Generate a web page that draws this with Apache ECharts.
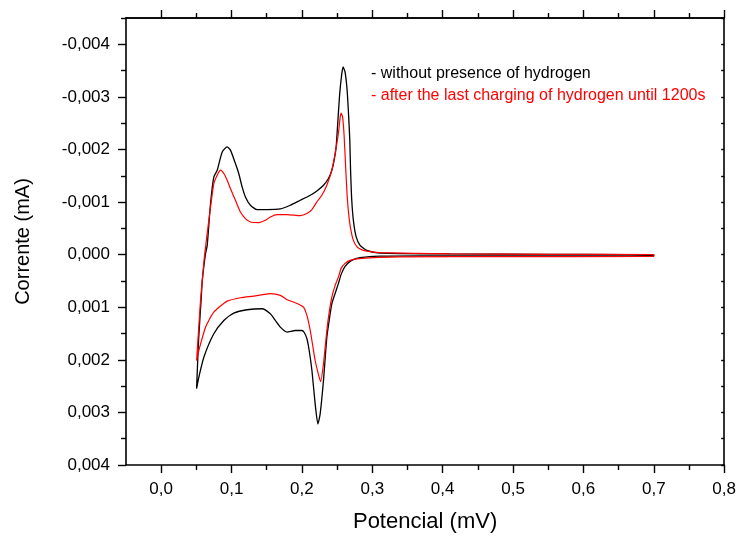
<!DOCTYPE html>
<html>
<head>
<meta charset="utf-8">
<script src="https://cdn.jsdelivr.net/npm/echarts@6/dist/echarts.min.js"></script>
<style>html,body{margin:0;padding:0;background:#fff}#c{width:739px;height:539px}</style>
</head>
<body>
<div id="c"></div>
<script>
// ---- data (potential in mV, current in mA) ----
const blackPotential = [0.0503,0.0531,0.0567,0.0584,0.0630,0.0654,0.0701,0.0748,0.0796,0.0867,0.0938,0.0984,0.1055,0.1102,0.1150,0.1197,0.1268,0.1363,0.1504,0.1693,0.1834,0.1976,0.2118,0.2212,0.2306,0.2377,0.2425,0.2458,0.2486,0.2507,0.2535,0.2564,0.2585,0.2613,0.2642,0.2663,0.2680,0.2691,0.2708,0.2731,0.2769,0.2826,0.2921,0.3109,0.4100,0.5517,0.7000,
  0.7000,0.4809,0.3676,0.3109,0.2897,0.2779,0.2684,0.2613,0.2557,0.2518,0.2472,0.2425,0.2387,0.2354,0.2306,0.2259,0.2227,0.2188,0.2142,0.2103,0.2071,0.2033,0.2000,0.1905,0.1788,0.1693,0.1622,0.1551,0.1433,0.1221,0.1031,0.0890,0.0748,0.0606,0.0535,0.0503];
const blackCurrent = [0.002547,0.001632,0.000870,0.000490,-0.000019,-0.000177,-0.000971,-0.001478,-0.001606,-0.001954,-0.002050,-0.001987,-0.001733,-0.001543,-0.001288,-0.001097,-0.000939,-0.000857,-0.000857,-0.000869,-0.000939,-0.001034,-0.001130,-0.001211,-0.001320,-0.001448,-0.001606,-0.001796,-0.002050,-0.002463,-0.003034,-0.003415,-0.003568,-0.003472,-0.003130,-0.002653,-0.002177,-0.001606,-0.001034,-0.000653,-0.000349,-0.000177,-0.000082,-0.000030,-0.000015,-0.000006,0.000000,
  0.000019,0.000023,0.000023,0.000029,0.000048,0.000070,0.000128,0.000223,0.000375,0.000552,0.000737,0.000933,0.001251,0.001570,0.002394,0.003029,0.003219,0.002838,0.002204,0.001823,0.001600,0.001480,0.001442,0.001442,0.001474,0.001379,0.001251,0.001124,0.001029,0.001048,0.001112,0.001251,0.001505,0.001950,0.002331,0.002547];

const redPotential = [0.0503,0.0531,0.0559,0.0584,0.0616,0.0677,0.0748,0.0796,0.0843,0.0890,0.0938,0.0984,0.1055,0.1126,0.1197,0.1268,0.1385,0.1480,0.1551,0.1646,0.1788,0.1976,0.2071,0.2142,0.2212,0.2283,0.2354,0.2425,0.2472,0.2518,0.2542,0.2557,0.2578,0.2599,0.2620,0.2642,0.2666,0.2691,0.2731,0.2783,0.2854,0.2967,0.3109,0.4101,0.5517,0.7000,
  0.7000,0.4809,0.3392,0.3109,0.2897,0.2779,0.2684,0.2613,0.2557,0.2518,0.2472,0.2425,0.2387,0.2354,0.2306,0.2266,0.2231,0.2188,0.2153,0.2118,0.2071,0.2023,0.1962,0.1905,0.1788,0.1693,0.1551,0.1314,0.1126,0.0938,0.0748,0.0630,0.0535,0.0503];
const redCurrent = [0.002013,0.001442,0.000870,0.000490,0.000013,-0.000653,-0.001352,-0.001510,-0.001606,-0.001543,-0.001415,-0.001257,-0.001034,-0.000811,-0.000686,-0.000621,-0.000610,-0.000653,-0.000716,-0.000762,-0.000762,-0.000743,-0.000781,-0.000857,-0.001002,-0.001130,-0.001320,-0.001606,-0.001924,-0.002305,-0.002596,-0.002691,-0.002615,-0.002272,-0.001701,-0.001130,-0.000749,-0.000501,-0.000272,-0.000149,-0.000091,-0.000057,-0.000038,-0.000015,-0.000006,-0.000002,
  0.000032,0.000038,0.000042,0.000051,0.000067,0.000080,0.000109,0.000166,0.000261,0.000427,0.000585,0.000808,0.001099,0.001442,0.002076,0.002413,0.002261,0.002013,0.001728,0.001442,0.001156,0.000998,0.000947,0.000914,0.000857,0.000775,0.000743,0.000789,0.000819,0.000884,0.001093,0.001379,0.001823,0.002013];

const xMajorTicks = [0,0.1,0.2,0.3,0.4,0.5,0.6,0.7,0.8];
const xMinorTicks = [0.05,0.15,0.25,0.35,0.45,0.55,0.65,0.75];
const yMajorTicks = [-0.004,-0.003,-0.002,-0.001,0,0.001,0.002,0.003,0.004];
const yMinorTicks = [-0.0045,-0.0035,-0.0025,-0.0015,-0.0005,0.0005,0.0015,0.0025,0.0035];
const legendLines = ['- without presence of hydrogen','- after the last charging of hydrogen until 1200s'];

const zip = (a,b) => a.map((v,i)=>[v,b[i]]);
const X_MIN=-0.05, X_MAX=0.8, Y_MIN=-0.0045, Y_MAX=0.004;
const axisColor='#000';
const sans = "'Liberation Sans',Arial,Helvetica,sans-serif";

function xAx(pos, ticks, len, labels, name){
  return {
    type:'value', position:pos, min:X_MIN, max:X_MAX,
    splitLine:{show:false},
    axisLine:{show:!!labels || pos==='top', onZero:false, lineStyle:{color:axisColor,width:1.6}},
    axisTick:{show:true, customValues:ticks, length:len, inside:false, lineStyle:{color:axisColor,width:1.4}},
    axisLabel:{show:!!labels, customValues:ticks, margin:16, color:'#000', fontFamily:sans, fontSize:17,
      formatter:v=>v.toFixed(1).replace('.',',')},
    name: name||'', nameLocation:'middle', nameGap:46,
    nameTextStyle:{color:'#000', fontFamily:sans, fontSize:22}
  };
}
function yAx(pos, ticks, len, labels, name, inside){
  return {
    type:'value', position:pos, min:Y_MIN, max:Y_MAX, inverse:true,
    splitLine:{show:false},
    axisLine:{show:!!labels || pos==='right', onZero:false, lineStyle:{color:axisColor,width:1.6}},
    axisTick:{show:true, customValues:ticks, length:len, inside:!!inside, lineStyle:{color:axisColor,width:1.4}},
    axisLabel:{show:!!labels, customValues:ticks, margin:16, color:'#000', fontFamily:sans, fontSize:17,
      formatter:v=>{const s=Math.abs(v).toFixed(3).replace('.',','); return (v<-1e-9?'-':'')+s;}},
    name: name||'', nameLocation:'middle', nameGap:93, nameRotate:90,
    nameTextStyle:{color:'#000', fontFamily:sans, fontSize:20}
  };
}

const chart = echarts.init(document.getElementById('c'), null, {renderer:'canvas'});
chart.setOption({
  animation:false,
  backgroundColor:'#fff',
  grid:{left:126, right:14, top:18, bottom:74, containLabel:false},
  xAxis:[
    xAx('bottom', xMajorTicks, 8, true, 'Potencial (mV)'),
    xAx('bottom', xMinorTicks, 5, false),
    xAx('top', xMajorTicks, 8, false),
    xAx('top', xMinorTicks, 5, false)
  ],
  yAxis:[
    yAx('left', yMajorTicks, 8, true, 'Corrente (mA)'),
    yAx('left', yMinorTicks, 5, false),
    yAx('right', yMajorTicks.concat(yMinorTicks), 3, false, '', true)
  ],
  graphic:legendLines.map((t,i)=>({
    type:'text', left:371, top:66+i*22, silent:true,
    style:{text:t, fill:i===0?'#000':'#ff0000', font:'16px '+sans}
  })),
  series:[
    {type:'line', name:'without', xAxisIndex:0, yAxisIndex:0, data:zip(blackPotential,blackCurrent),
      showSymbol:false, smooth:0.2, lineStyle:{color:'#000', width:1.3}, z:3},
    {type:'line', name:'after', xAxisIndex:0, yAxisIndex:0, data:zip(redPotential,redCurrent),
      showSymbol:false, smooth:0.2, lineStyle:{color:'#ff0000', width:1.2}, z:4}
  ]
});
</script>
</body>
</html>
